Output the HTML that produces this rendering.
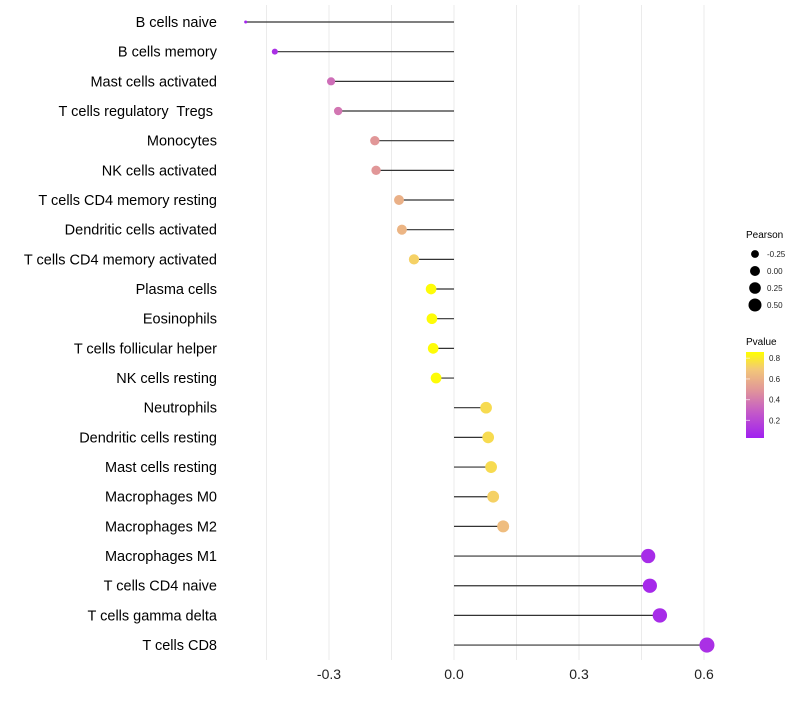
<!DOCTYPE html>
<html><head><meta charset="utf-8"><style>
body{margin:0;background:#fff;font-family:"Liberation Sans",sans-serif;}
svg text{font-family:"Liberation Sans",sans-serif;white-space:pre;}
</style></head><body>
<svg id="chart" width="800" height="700" xmlns="http://www.w3.org/2000/svg">
<defs><linearGradient id="pgrad" x1="0" y1="1" x2="0" y2="0">
<stop offset="0" stop-color="#A020F0"/><stop offset="0.3" stop-color="#C45AC8"/>
<stop offset="0.55" stop-color="#E0949A"/><stop offset="0.8" stop-color="#F3C878"/>
<stop offset="1" stop-color="#FFFF00"/></linearGradient></defs>
<g id="grid"></g><g id="marks"></g><g id="labels"></g>
<g>
<text x="746" y="238" font-size="10">Pearson</text>
<text x="746" y="345" font-size="10">Pvalue</text>
<rect x="746" y="352" width="18" height="86" fill="url(#pgrad)"/>
</g>
</svg>
<script>
const categories=["B cells naive","B cells memory","Mast cells activated","T cells regulatory  Tregs ","Monocytes","NK cells activated","T cells CD4 memory resting","Dendritic cells activated","T cells CD4 memory activated","Plasma cells","Eosinophils","T cells follicular helper","NK cells resting","Neutrophils","Dendritic cells resting","Mast cells resting","Macrophages M0","Macrophages M2","Macrophages M1","T cells CD4 naive","T cells gamma delta","T cells CD8"];
const pearson=[-0.50,-0.43,-0.295,-0.278,-0.19,-0.187,-0.132,-0.125,-0.096,-0.055,-0.053,-0.05,-0.043,0.077,0.082,0.089,0.094,0.118,0.466,0.47,0.494,0.607];
const pvalue=[0.05,0.1,0.35,0.38,0.5,0.5,0.6,0.62,0.72,0.85,0.85,0.85,0.85,0.75,0.75,0.75,0.72,0.65,0.08,0.07,0.08,0.1];
const xTicks=[-0.3,0.0,0.3,0.6];
const xTickLabels=["-0.3","0.0","0.3","0.6"];
const sizeBreaks=[-0.25,0.00,0.25,0.50];
const sizeLabels=["-0.25","0.00","0.25","0.50"];
const colorBreaks=[0.2,0.4,0.6,0.8];
const colorLabels=["0.2","0.4","0.6","0.8"];

const NS="http://www.w3.org/2000/svg";
const X=v=>454+v*416.7;
const Y=i=>22+i*29.67;
const R=v=>1.5+6*Math.sqrt(Math.max(0,(v+0.5)/1.1));
const CY=p=>352+(0.86-p)/0.83*86;
function col(p){
 const st=[[0,[160,32,240]],[0.3,[196,90,200]],[0.55,[224,148,154]],[0.8,[243,200,120]],[1,[255,255,0]]];
 let t=Math.max(0,Math.min(1,(p-0.03)/0.83));
 for(let k=1;k<st.length;k++){if(t<=st[k][0]){const a=st[k-1],b=st[k],f=(t-a[0])/(b[0]-a[0]);
 return "rgb("+a[1].map((c,j)=>Math.round(c+(b[1][j]-c)*f)).join(",")+")";}}
 return "rgb(255,255,0)";
}
function mk(tag,attrs,parent){const e=document.createElementNS(NS,tag);for(const k in attrs)e.setAttribute(k,attrs[k]);parent.appendChild(e);return e;}
const grid=document.getElementById('grid'),marks=document.getElementById('marks'),labels=document.getElementById('labels');
const svg=document.getElementById('chart');
for(let k=-3;k<=4;k++){
 const v=k*0.15;
 const l=mk('line',{x1:X(v),x2:X(v),y1:5,y2:660,stroke:'#ebebeb','stroke-width':1},grid);
 
 
}
xTicks.forEach((v,i)=>{
 const t=mk('text',{x:X(v),y:679,'font-size':14,'text-anchor':'middle',fill:'#222'},labels);
 t.textContent=xTickLabels[i];
 
 
});
categories.forEach((c,i)=>{
 const t=mk('text',{x:217,y:Y(i)+5,'font-size':14.5,'text-anchor':'end',fill:'#000'},labels);
 t.textContent=c;
 
 
 const l=mk('line',{x1:X(0),x2:X(pearson[i]),y1:Y(i),y2:Y(i),stroke:'#333','stroke-width':1.2},marks);
 
 
 const d=mk('circle',{cx:X(pearson[i]),cy:Y(i),r:R(pearson[i]),fill:col(pvalue[i])},marks);
 
 
});
sizeBreaks.forEach((v,i)=>{
 const y=254+i*17;
 const d=mk('circle',{cx:755,cy:y,r:R(v)*0.9,fill:'#000'},svg);
 
 
 const t=mk('text',{x:767,y:y+3,'font-size':8,fill:'#222'},svg);
 t.textContent=sizeLabels[i];
 
 
});
colorBreaks.forEach((v,i)=>{
 const y=CY(v);
 const t=mk('text',{x:769,y:y+3,'font-size':8,fill:'#222'},svg);
 t.textContent=colorLabels[i];
 
 
 const tk=mk('line',{x1:746,x2:750,y1:y,y2:y,stroke:'#fff','stroke-opacity':0.6},svg);
 
 
});
</script>
</body></html>
